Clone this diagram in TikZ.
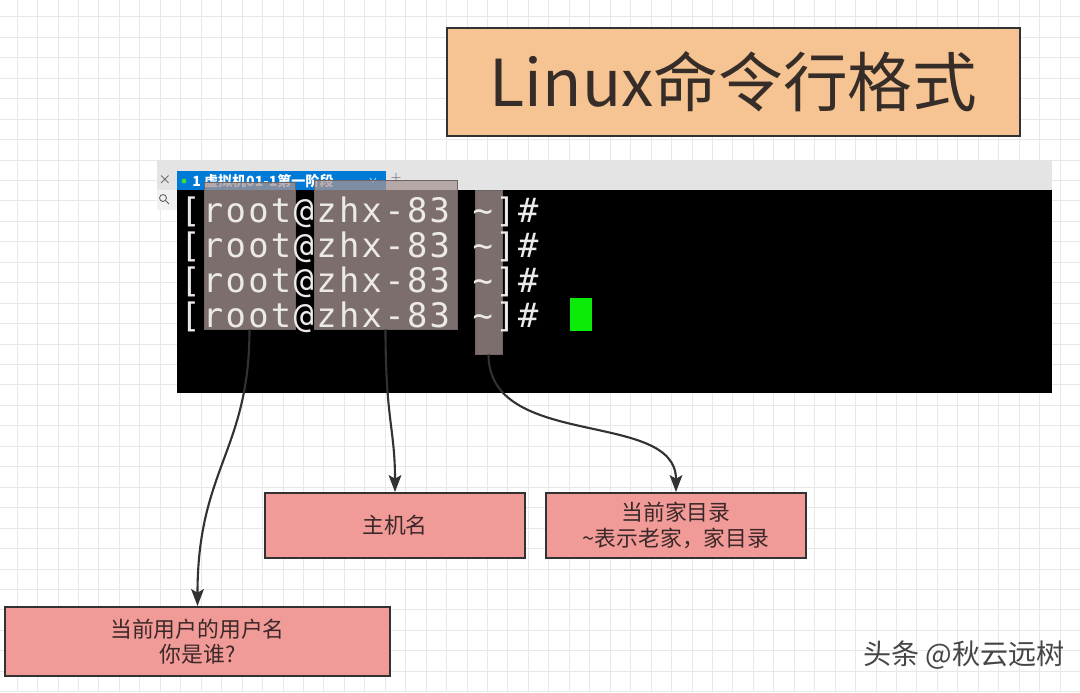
\documentclass[tikz,border=0pt]{standalone}
\usepackage{fontspec}
\newfontfamily\cjk{Noto Sans CJK SC}
\newfontfamily\termfont{DejaVu Sans Mono}[LetterSpace=7]
\usetikzlibrary{
    arrows.meta,
    positioning,
    calc
}
\newcommand\pxu{0.025cm}
\definecolor{gridgray}{RGB}{232,232,232}
\definecolor{titlefill}{RGB}{246,196,146}
\definecolor{titletext}{RGB}{55,45,40}
\definecolor{edgegray}{RGB}{50,50,50}
\definecolor{labelfill}{RGB}{240,155,152}
\definecolor{labeltext}{RGB}{60,40,40}
\definecolor{markfill}{RGB}{168,148,148}
\definecolor{markedge}{RGB}{110,100,100}
\definecolor{termwhite}{RGB}{236,234,232}
\definecolor{barfill}{RGB}{228,228,228}
\definecolor{iconcolor}{RGB}{90,90,90}
\definecolor{tabblue}{RGB}{0,122,215}
\definecolor{tabdot}{RGB}{60,220,60}
\definecolor{cursorgreen}{RGB}{10,235,10}
\definecolor{markgray}{RGB}{70,70,70}
\tikzset{
    gridline/.style={draw=gridgray, line width=0.5pt},
    titlebox/.style={draw=edgegray, line width=1.2pt, fill=titlefill, text=titletext,
        font=\cjk\fontsize{46}{54}\selectfont, inner sep=0pt},
    labelbox/.style={draw=edgegray, line width=1.4pt, fill=labelfill, text=labeltext,
        align=center, font=\cjk\fontsize{15.5}{18}\selectfont, inner sep=0pt},
    markbox/.style={draw=markedge, line width=0.6pt, fill=markfill, fill opacity=0.75, inner sep=0pt},
    termtext/.style={text=termwhite, font=\termfont\fontsize{24}{28}\selectfont, inner sep=0pt, anchor=base west},
    pointer/.style={draw=edgegray, line width=1.5pt, -{Stealth[length=12pt,width=9pt,inset=2.5pt]}}
}

\begin{document}
\begin{tikzpicture}[x=0.025cm, y=-0.025cm]
    \useasboundingbox (0,0) rectangle (1080,692);
    \fill[white] (0,0) rectangle (1080,692);
    % background grid
    \foreach \k in {0,...,51}
        \draw[gridline] ({17+20.45*\k},0) -- ({17+20.45*\k},692);
    \foreach \k in {0,...,33}
        \draw[gridline] (0,{16.7+20.45*\k}) -- (1080,{16.7+20.45*\k});

    % title
    \node[titlebox, minimum width=573*\pxu, minimum height=108*\pxu] (title) at (733.5,82) {Linux命令行格式};

    % terminal window
    \fill[barfill] (157,160) rectangle (1052,190);
    \fill[barfill!50!white] (157,190) rectangle (177,210);
    \node[font=\cjk\fontsize{9}{9}\selectfont, text=iconcolor, inner sep=0pt] (closemark) at (165,180) {×};
    \draw[iconcolor, line width=0.6pt] (163,198) circle[radius=3.5] (166,201) -- (169,204);
    \fill[tabblue] (177,171) rectangle (386,190);
    \fill[tabdot] (184,181) circle[radius=2.5];
    \node[anchor=west, text=white, font=\cjk\bfseries\fontsize{10}{10}\selectfont, inner sep=0pt] (tablabel) at (192,181) {1 虚拟机01-1第一阶段};
    \draw[white!70!tabblue, line width=0.6pt] (370,178) -- (373,182) -- (376,178);
    \node[text=iconcolor, font=\fontsize{10}{10}\selectfont, inner sep=0pt] (addtab) at (396,178) {+};
    \fill[black] (177,190) rectangle (1052,393);

    % highlight boxes
    \node[markbox, minimum width=91*\pxu, minimum height=147*\pxu] (rootbox) at (249.5,255.5) {};
    \node[markbox, minimum width=143*\pxu, minimum height=149*\pxu] (hostbox) at (385.5,254.5) {};
    \node[markbox, minimum width=27*\pxu, minimum height=164*\pxu] (homebox) at (488.5,272) {};

    % prompt lines
    \foreach \i in {1,...,4}
        \node[termtext] (line\i) at (180,{187+35*\i}) {[root@zhx-83 \textasciitilde]\#};
    \node[fill=cursorgreen, minimum width=22*\pxu, minimum height=33*\pxu, inner sep=0pt] (cursor) at (581,314.5) {};

    % labels
    \node[labelbox, minimum width=260*\pxu, minimum height=65*\pxu] (hostlbl) at (395,525.5) {主机名};
    \node[labelbox, minimum width=260*\pxu, minimum height=65*\pxu] (homelbl) at (676,525.5) {当前家目录\\\textasciitilde 表示老家，家目录};
    \node[labelbox, minimum width=385*\pxu, minimum height=69*\pxu] (userlbl) at (197.5,641.5) {当前用户的用户名\\你是谁?};

    % pointers
    \draw[pointer] (rootbox.south) .. controls +(0,121) and +(0,-137) .. (userlbl.north);
    \draw[pointer] (hostbox.south) .. controls +(0,90) and +(0,-63) .. (hostlbl.north);
    \draw[pointer] (homebox.south) .. controls +(0,96) and +(0,-83) .. (homelbl.north);

    \node[font=\cjk\fontsize{20}{20}\selectfont, text=markgray, anchor=east, inner sep=0pt] (watermark) at (1065,655) {头条 @秋云远树};
\end{tikzpicture}
\end{document}
